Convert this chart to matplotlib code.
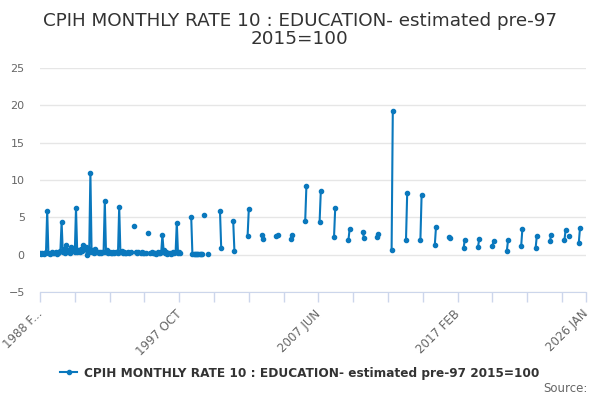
import matplotlib
matplotlib.use("Agg")
import matplotlib.pyplot as plt
import matplotlib.transforms as mtrans
import numpy as np

plt.rcParams['font.family'] = ['DejaVu Sans']

title = "CPIH MONTHLY RATE 10 : EDUCATION- estimated pre-97\n2015=100"
series_name = "CPIH MONTHLY RATE 10 : EDUCATION- estimated pre-97 2015=100"

# months from 1988 FEB to 2026 JAN
n_months = 456
tick_pos = [0, 116, 232, 348, 455]
tick_labels = ["1988 F...", "1997 OCT", "2007 JUN", "2017 FEB", "2026 JAN"]

N = None
# 1988 FEB .. 1999 OCT, one value per month (None = missing)
early_vals = [
    0.2, 0.1, 0.2, 0.1, 0.2, 0.3, 5.9, 0.2, 0.1, 0.2, 0.3, 0.2,
    0.2, 0.3, 0.1, 0.2, 0.4, 0.5, 4.4, 0.3, 0.8, 0.2, 1.3, 0.6,
    0.4, 0.2, 1.0, 0.5, 0.9, 0.3, 6.2, 0.4, 0.6, 0.3, 0.8, 0.5,
    1.3, 0.7, 1.0, -0.1, 0.9, 0.4, 11.0, 0.3, 0.6, 0.2, 0.8, 0.3,
    0.3, 0.2, 0.4, 0.2, 0.3, 0.4, 7.2, 0.3, 0.6, 0.2, 0.3, 0.2,
    0.2, 0.3, 0.2, 0.4, 0.3, 0.2, 6.4, 0.3, 0.5, 0.2, 0.3, 0.2,
    0.2, 0.3, 0.2, N, 0.3, N, 3.9, N, 0.3, 0.2, 0.3, N,
    0.2, 0.3, 0.2, 0.2, 0.2, N, 2.9, N, 0.2, 0.3, 0.2, 0.2,
    0.2, 0.1, 0.3, 0.2, 0.2, 0.3, 2.6, 0.6, 0.2, 0.3, 0.1, 0.2,
    0.2, 0.1, 0.2, 0.3, 0.2, 0.3, 4.3, 0.2, 0.3, 0.2, N, N,
    N, N, N, N, N, N, 5.1, 0.1, 0.1, 0.1, 0.1, 0.1,
    0.1, 0.1, 0.1, 0.1, N, 5.3, N, N, 0.1,
]

# later years: two consecutive months per year
pair_start = [150, 161, 173, 185, 197, 209, 221, 233, 245, 257, 269, 281, 293,
              305, 317, 329, 341, 353, 365, 377, 389, 401, 413, 425, 437, 449]
pair_first = [5.8, 4.5, 2.5, 2.7, 2.5, 2.1, 4.5, 4.4, 2.3, 1.9, 3.1, 2.3, 0.6,
              2.0, 2.0, 1.3, 2.4, 0.9, 1.0, 1.2, 0.45, 1.2, 0.85, 1.85, 1.9, 1.6]
pair_second = [0.9, 0.55, 6.1, 2.1, 2.6, 2.7, 9.2, 8.5, 6.2, 3.4, 2.2, 2.8, 19.2,
               8.3, 8.0, 3.7, 2.2, 2.0, 2.1, 1.8, 1.9, 3.5, 2.5, 2.7, 3.3, 3.6]
single_idx = [441]
single_vals = [2.5]

values = np.full(n_months, np.nan)
for i, v in enumerate(early_vals):
    if v is not None:
        values[i] = v
for s, a, b in zip(pair_start, pair_first, pair_second):
    values[s] = a
    values[s + 1] = b
for s, v in zip(single_idx, single_vals):
    values[s] = v

color = '#0a78bd'
fig = plt.figure(figsize=(6, 4), dpi=100)
ax = fig.add_axes([40 / 600, 1 - 292 / 400, 546 / 600, 224 / 400])

ax.plot(np.arange(n_months), values, color=color, linewidth=1.5,
        marker='o', markersize=3, label=series_name)

ax.set_ylim(-5, 25)
ax.set_xlim(0, 455)
ax.set_yticks([-5, 0, 5, 10, 15, 20, 25])
ax.grid(axis='y', color='#e6e6e6', linewidth=1)
ax.set_axisbelow(True)
for side in ['left', 'right', 'top']:
    ax.spines[side].set_visible(False)
ax.spines['bottom'].set_color('#ccd6eb')
ax.tick_params(axis='y', length=0, pad=11, labelsize=8, labelcolor='#666666')

ax.set_xticks(list(range(0, 455, 29)) + [455], minor=True)
ax.set_xticks(tick_pos)
ax.set_xticklabels(tick_labels, rotation=45, ha='right', rotation_mode='anchor')
ax.tick_params(axis='x', which='both', length=7.5, color='#ccd6eb', width=1)
ax.tick_params(axis='x', labelsize=8.5, labelcolor='#666666', pad=5)
shift = mtrans.ScaledTranslation(-4 / 100, 2 / 100, fig.dpi_scale_trans)
for lab in ax.get_xticklabels():
    lab.set_transform(lab.get_transform() + shift)

fig.text(0.5, 1 - 30 / 400, title, ha='center', va='center', fontsize=13.2,
         color='#333333', linespacing=1.05)

leg = fig.legend(loc='center', bbox_to_anchor=(0.5, 1 - 373 / 400), frameon=False,
                 handlelength=1.4, handletextpad=0.6,
                 prop={'weight': 'bold', 'size': 8.7})
for t in leg.get_texts():
    t.set_color('#333333')

fig.text(0.98, 1 - 389 / 400, "Source:", ha='right', va='center', fontsize=8.5,
         color='#666666')

fig.savefig('out.png', dpi=100)
